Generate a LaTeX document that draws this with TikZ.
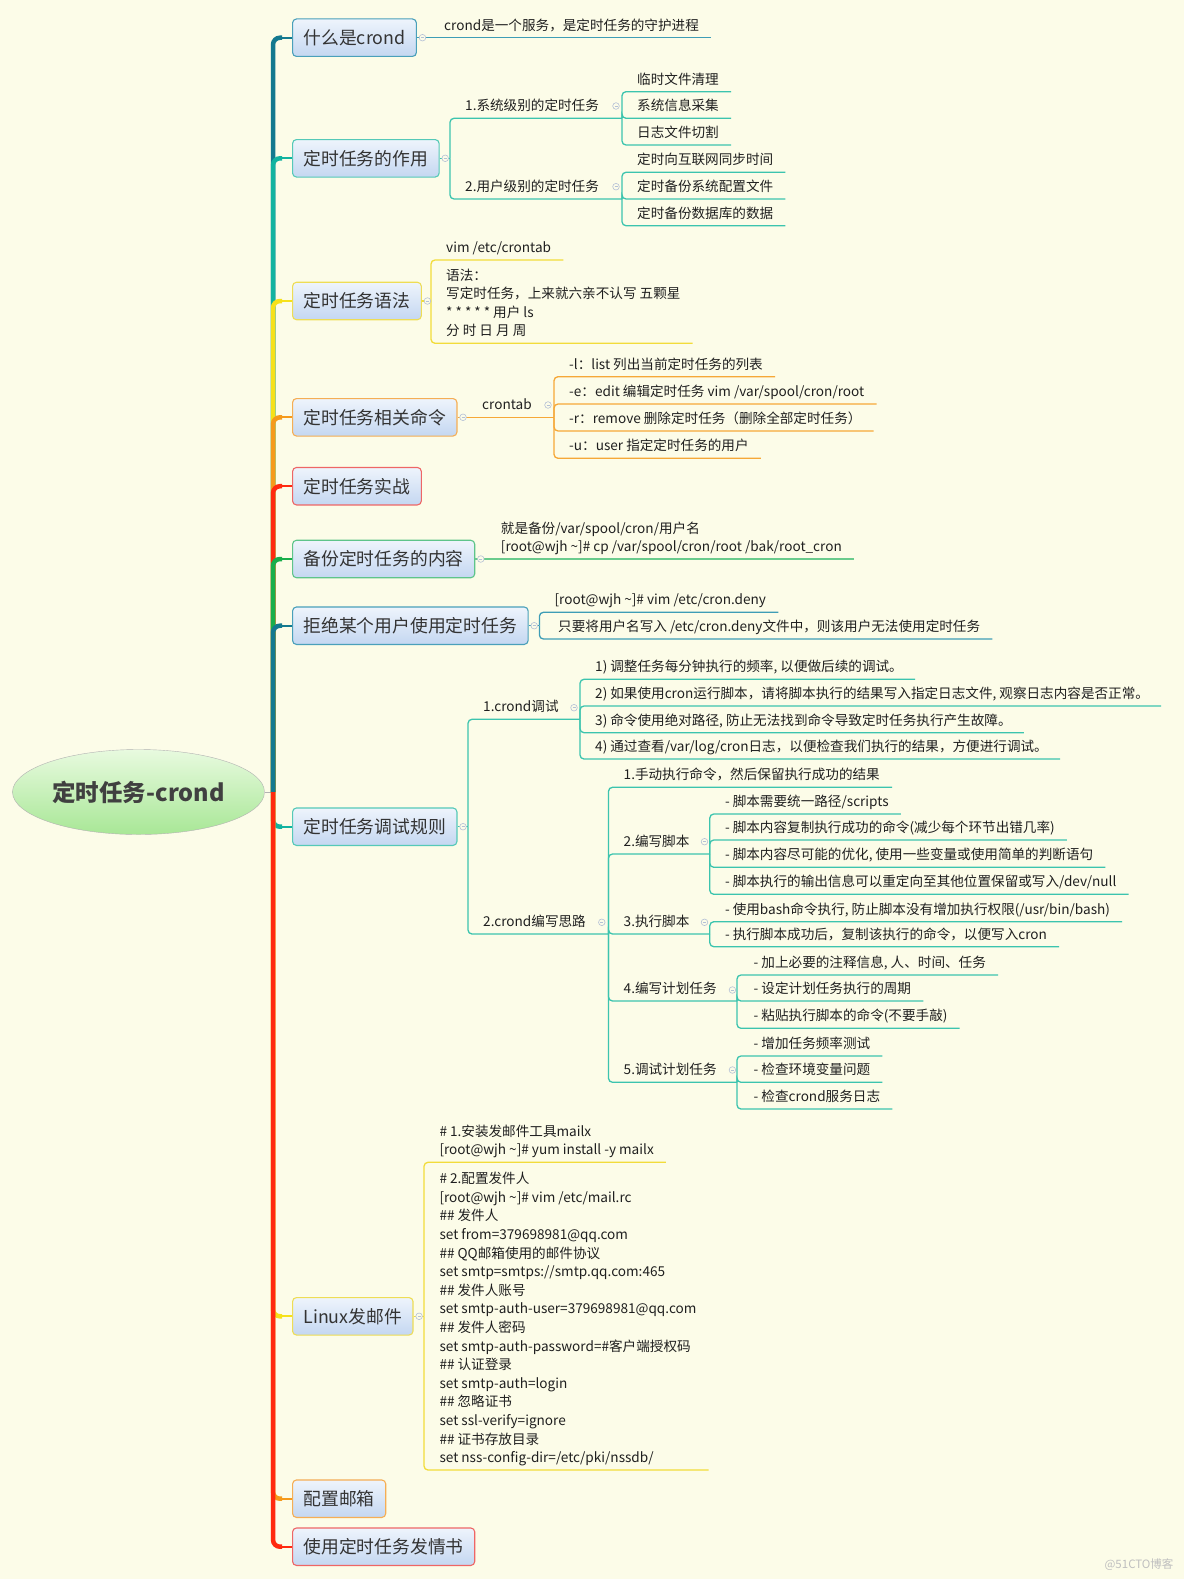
\documentclass[tikz,border=0pt]{standalone}
\usepackage{fontspec}
\setmainfont{Noto Sans CJK SC}
\usepackage{xcolor}
\usepackage{tikz}
\usetikzlibrary{shapes.geometric}
\usetikzlibrary{calc}

\definecolor{bg}{HTML}{FCFCE8}
\definecolor{topA}{HTML}{EEF4FC}
\definecolor{topB}{HTML}{C4D7F1}
\definecolor{rootA}{HTML}{E8FADF}
\definecolor{rootB}{HTML}{A8E796}
\definecolor{tkA}{HTML}{13798F}
\definecolor{tkB}{HTML}{12B3A0}
\definecolor{tkC}{HTML}{F6E11A}
\definecolor{tkD}{HTML}{F59A1C}
\definecolor{tkE}{HTML}{FF2A10}
\definecolor{tkF}{HTML}{18AE4B}
\definecolor{lnA}{HTML}{3E9DB6}
\definecolor{lnB}{HTML}{3CC4AE}
\definecolor{lnC}{HTML}{F2DC3A}
\definecolor{lnD}{HTML}{F6A838}
\definecolor{lnF}{HTML}{6ACB8C}
\definecolor{bdA}{HTML}{4AA0BA}
\definecolor{bdB}{HTML}{55C9B8}
\definecolor{bdC}{HTML}{EEDD55}
\definecolor{bdD}{HTML}{F5AE55}
\definecolor{bdE}{HTML}{EE6666}
\definecolor{bdF}{HTML}{5EC48A}
\definecolor{foldc}{HTML}{B4C0D6}

\begin{document}
\begin{tikzpicture}[x=1pt, y=-1pt,
	rootnode/.style={ellipse, draw=gray!60, top color=rootA, bottom color=rootB, minimum width=252pt, minimum height=85pt, inner sep=0pt, font=\fontsize{23.5}{28}\selectfont\bfseries, text=black!75},
	topic/.style={draw, line width=1.1pt, rounded corners=4pt, top color=topA, bottom color=topB, font=\fontsize{17.8}{21}\selectfont, text=black!80, inner xsep=11pt, inner ysep=0pt, minimum height=37.5pt, anchor=west},
	leaf/.style={font=\fontsize{13.6}{18.6}\selectfont, text=black!88, inner xsep=12pt, inner ysep=1.6pt, anchor=south west, align=left, execute at begin node=\strut},
	trunk/.style={line width=4.5pt, rounded corners=7pt},
	stub/.style={line width=2.2pt},
	sub/.style={line width=1.3pt, rounded corners=4pt},
	fold/.style={draw=foldc, fill=bg, line width=0.6pt}]
	\fill[bg] (0,0) rectangle (1184,1579);
	\useasboundingbox (0,0) rectangle (1184,1579);

	% centre and main topics
	\node[rootnode] (root) at (138.5,792) {定时任务-crond};
	\coordinate (hub) at (273,792);
	\node[topic, draw=bdA] (t1) at (292,37.7) {什么是crond};
	\node[topic, draw=bdB] (t2) at (292,158.3) {定时任务的作用};
	\node[topic, draw=bdC] (t3) at (292,301) {定时任务语法};
	\node[topic, draw=bdD] (t4) at (292,417.3) {定时任务相关命令};
	\node[topic, draw=bdE] (t5) at (292,486.2) {定时任务实战};
	\node[topic, draw=bdF] (t6) at (292,559) {备份定时任务的内容};
	\node[topic, draw=bdA] (t7) at (292,625.7) {拒绝某个用户使用定时任务};
	\node[topic, draw=bdB] (t8) at (292,826.7) {定时任务调试规则};
	\node[topic, draw=bdC] (t9) at (292,1316.3) {Linux发邮件};
	\node[topic, draw=bdD] (t10) at (292,1498.7) {配置邮箱};
	\node[topic, draw=bdE] (t11) at (292,1546.7) {使用定时任务发情书};

	% trunk
	\draw[gray!60, line width=1pt] (root.east) -- (hub);
	\draw[trunk, tkA] (hub) |- ([xshift=-10pt]t1.west);
	\draw[stub, tkA] ([xshift=-11pt]t1.west) -- (t1.west);
	\draw[trunk, tkB] (hub) |- ([xshift=-10pt]t2.west);
	\draw[stub, tkB] ([xshift=-11pt]t2.west) -- (t2.west);
	\draw[trunk, tkC] (hub) |- ([xshift=-10pt]t3.west);
	\draw[stub, tkC] ([xshift=-11pt]t3.west) -- (t3.west);
	\draw[trunk, tkD] (hub) |- ([xshift=-10pt]t4.west);
	\draw[stub, tkD] ([xshift=-11pt]t4.west) -- (t4.west);
	\draw[trunk, tkE] (hub) |- ([xshift=-10pt]t5.west);
	\draw[stub, tkE] ([xshift=-11pt]t5.west) -- (t5.west);
	\draw[trunk, tkF] (hub) |- ([xshift=-10pt]t6.west);
	\draw[stub, tkF] ([xshift=-11pt]t6.west) -- (t6.west);
	\draw[trunk, tkA] (hub) |- ([xshift=-10pt]t7.west);
	\draw[stub, tkA] ([xshift=-11pt]t7.west) -- (t7.west);
	\draw[trunk, tkB] (hub) |- ([xshift=-10pt]t8.west);
	\draw[stub, tkB] ([xshift=-11pt]t8.west) -- (t8.west);
	\draw[trunk, tkC] (hub) |- ([xshift=-10pt]t9.west);
	\draw[stub, tkC] ([xshift=-11pt]t9.west) -- (t9.west);
	\draw[trunk, tkD] (hub) |- ([xshift=-10pt]t10.west);
	\draw[stub, tkD] ([xshift=-11pt]t10.west) -- (t10.west);
	\draw[trunk, tkE] (hub) |- ([xshift=-10pt]t11.west);
	\draw[stub, tkE] ([xshift=-11pt]t11.west) -- (t11.west);

	% 什么是crond
	\node[leaf] (l1) at (432,37.7) {crond是一个服务，是定时任务的守护进程};
	\draw[sub, lnA] (t1.east) -- (l1.south east);

	% 定时任务的作用
	\coordinate (f2) at (450,158.3);
	\coordinate (f2a) at (622,118.3);
	\coordinate (f2b) at (622,199);
	\node[leaf] (l2a) at (453,118.3) {1.系统级别的定时任务};
	\node[leaf] (l2b) at (453,199) {2.用户级别的定时任务};
	\node[leaf] (l2a1) at (625,91.7) {临时文件清理};
	\node[leaf] (l2a2) at (625,118.3) {系统信息采集};
	\node[leaf] (l2a3) at (625,145) {日志文件切割};
	\node[leaf] (l2b1) at (625,172.3) {定时向互联网同步时间};
	\node[leaf] (l2b2) at (625,199) {定时备份系统配置文件};
	\node[leaf] (l2b3) at (625,225.7) {定时备份数据库的数据};
	\draw[sub, lnB] (t2.east) -- (f2);
	\draw[sub, lnB] (f2) |- (f2a);
	\draw[sub, lnB] (f2) |- (f2b);
	\foreach \n in {l2a1,l2a2,l2a3}
		\draw[sub, lnB] (f2a) |- (\n.south east);
	\foreach \n in {l2b1,l2b2,l2b3}
		\draw[sub, lnB] (f2b) |- (\n.south east);

	% 定时任务语法
	\coordinate (f3) at (431,301);
	\node[leaf] (l3a) at (434,260) {vim /etc/crontab};
	\node[leaf] (l3b) at (434,343.3) {语法：\\写定时任务，上来就六亲不认写 五颗星\\{}* * * * * 用户 ls\\分 时 日 月 周\strut};
	\draw[sub, lnC] (t3.east) -- (f3);
	\draw[sub, lnC] (f3) |- (l3a.south east);
	\draw[sub, lnC] (f3) |- (l3b.south east);

	% 定时任务相关命令
	\coordinate (f4) at (554,417.3);
	\node[leaf] (l4) at (470,417.3) {crontab};
	\node[leaf] (l4a) at (557,376.7) {-l：list 列出当前定时任务的列表};
	\node[leaf] (l4b) at (557,404) {-e：edit 编辑定时任务 vim /var/spool/cron/root};
	\node[leaf] (l4c) at (557,431) {-r：remove 删除定时任务（删除全部定时任务）};
	\node[leaf] (l4d) at (557,458.3) {-u：user 指定定时任务的用户};
	\draw[sub, lnD] (t4.east) -- (f4);
	\foreach \n in {l4a,l4b,l4c,l4d}
		\draw[sub, lnD] (f4) |- (\n.south east);

	% 备份定时任务的内容
	\node[leaf] (l6) at (488.7,559) {就是备份/var/spool/cron/用户名\\{}[root@wjh \textasciitilde]\# cp /var/spool/cron/root /bak/root\_cron\strut};
	\draw[sub, lnF] (t6.east) -- (l6.south east);

	% 拒绝某个用户使用定时任务
	\coordinate (f7) at (539.4,625.7);
	\node[leaf] (l7a) at (542.4,612.3) {[root@wjh \textasciitilde]\# vim /etc/cron.deny};
	\node[leaf] (l7b) at (546,639) {只要将用户名写入 /etc/cron.deny文件中，则该用户无法使用定时任务};
	\draw[sub, lnA] (t7.east) -- (f7);
	\draw[sub, lnA] (f7) |- (l7a.south east);
	\draw[sub, lnA] (f7) |- (l7b.south east);

	% 定时任务调试规则
	\coordinate (f8) at (468,826.7);
	\coordinate (f8a) at (580,719.3);
	\coordinate (f8b) at (608.5,934);
	\coordinate (f8b2) at (709.8,854);
	\coordinate (f8b3) at (709.8,934);
	\coordinate (f8b4) at (737,1001);
	\coordinate (f8b5) at (737,1082.3);
	\node[leaf] (l8a) at (471,719.3) {1.crond调试};
	\node[leaf] (l8b) at (471,934) {2.crond编写思路};
	\node[leaf] (l8a1) at (583,679.3) {1) 调整任务每分钟执行的频率, 以便做后续的调试。};
	\node[leaf] (l8a2) at (583,706) {2) 如果使用cron运行脚本，请将脚本执行的结果写入指定日志文件, 观察日志内容是否正常。};
	\node[leaf] (l8a3) at (583,732.7) {3) 命令使用绝对路径, 防止无法找到命令导致定时任务执行产生故障。};
	\node[leaf] (l8a4) at (583,759) {4) 通过查看/var/log/cron日志，以便检查我们执行的结果，方便进行调试。};
	\node[leaf] (l8b1) at (611.5,787.3) {1.手动执行命令，然后保留执行成功的结果};
	\node[leaf] (l8b2) at (611.5,854) {2.编写脚本};
	\node[leaf] (l8b3) at (611.5,934) {3.执行脚本};
	\node[leaf] (l8b4) at (611.5,1001) {4.编写计划任务};
	\node[leaf] (l8b5) at (611.5,1082.3) {5.调试计划任务};
	\node[leaf] (s21) at (712.8,814) {- 脚本需要统一路径/scripts};
	\node[leaf] (s22) at (712.8,840) {- 脚本内容复制执行成功的命令(减少每个环节出错几率)};
	\node[leaf] (s23) at (712.8,867.3) {- 脚本内容尽可能的优化, 使用一些变量或使用简单的判断语句};
	\node[leaf] (s24) at (712.8,894.3) {- 脚本执行的输出信息可以重定向至其他位置保留或写入/dev/null};
	\node[leaf] (s31) at (712.8,921.7) {- 使用bash命令执行, 防止脚本没有增加执行权限(/usr/bin/bash)};
	\node[leaf] (s32) at (712.8,946.7) {- 执行脚本成功后，复制该执行的命令，以便写入cron};
	\node[leaf] (s41) at (741.5,975) {- 加上必要的注释信息, 人、时间、任务};
	\node[leaf] (s42) at (741.5,1001) {- 设定计划任务执行的周期};
	\node[leaf] (s43) at (741.5,1028.3) {- 粘贴执行脚本的命令(不要手敲)};
	\node[leaf] (s51) at (741.5,1056) {- 增加任务频率测试};
	\node[leaf] (s52) at (741.5,1082.3) {- 检查环境变量问题};
	\node[leaf] (s53) at (741.5,1109) {- 检查crond服务日志};
	\draw[sub, lnB] (t8.east) -- (f8);
	\draw[sub, lnB] (f8) |- (f8a);
	\draw[sub, lnB] (f8) |- (f8b);
	\foreach \n in {l8a1,l8a2,l8a3,l8a4}
		\draw[sub, lnB] (f8a) |- (\n.south east);
	\draw[sub, lnB] (f8b) |- (l8b1.south east);
	\draw[sub, lnB] (f8b) |- (f8b2);
	\draw[sub, lnB] (f8b) |- (f8b3);
	\draw[sub, lnB] (f8b) |- (f8b4);
	\draw[sub, lnB] (f8b) |- (f8b5);
	\foreach \n in {s21,s22,s23,s24}
		\draw[sub, lnB] (f8b2) |- (\n.south east);
	\foreach \n in {s31,s32}
		\draw[sub, lnB] (f8b3) |- (\n.south east);
	\foreach \n in {s41,s42,s43}
		\draw[sub, lnB] (f8b4) |- (\n.south east);
	\foreach \n in {s51,s52,s53}
		\draw[sub, lnB] (f8b5) |- (\n.south east);

	% Linux发邮件
	\coordinate (f9) at (424,1316.3);
	\node[leaf] (l9a) at (427.3,1162.3) {\# 1.安装发邮件工具mailx\\{}[root@wjh \textasciitilde]\# yum install -y mailx\strut};
	\node[leaf] (l9b) at (427.3,1470) {\# 2.配置发件人\\{}[root@wjh \textasciitilde]\# vim /etc/mail.rc\\\#\# 发件人\\set from=379698981@qq.com\\\#\# QQ邮箱使用的邮件协议\\set smtp=smtps://smtp.qq.com:465\\\#\# 发件人账号\\set smtp-auth-user=379698981@qq.com\\\#\# 发件人密码\\set smtp-auth-password=\#客户端授权码\\\#\# 认证登录\\set smtp-auth=login\\\#\# 忽略证书\\set ssl-verify=ignore\\\#\# 证书存放目录\\set nss-config-dir=/etc/pki/nssdb/\strut};
	\draw[sub, lnC] (t9.east) -- (f9);
	\draw[sub, lnC] (f9) |- (l9a.south east);
	\draw[sub, lnC] (f9) |- (l9b.south east);

	% fold markers
	\foreach \t in {t1,t2,t3,t4,t6,t7,t8,t9} {
		\draw[fold] ([xshift=5.5pt]\t.east) circle (3.3pt);
		\draw[foldc, line width=0.6pt] ([xshift=4pt]\t.east) -- ([xshift=7pt]\t.east);
	}
	\foreach \x/\y in {616/106, 616/186.7, 548/405, 574/707.7, 601.8/922.3, 704.5/841.7, 704.5/922.3, 732.4/990, 732.4/1070} {
		\draw[fold] (\x,\y) circle (3.3pt);
		\draw[foldc, line width=0.6pt] (\x-1.5,\y) -- (\x+1.5,\y);
	}

	\node[font=\fontsize{11.5}{12}\selectfont, text=black!25, anchor=east] (mark) at (1177,1565) {@51CTO博客};
\end{tikzpicture}
\end{document}
